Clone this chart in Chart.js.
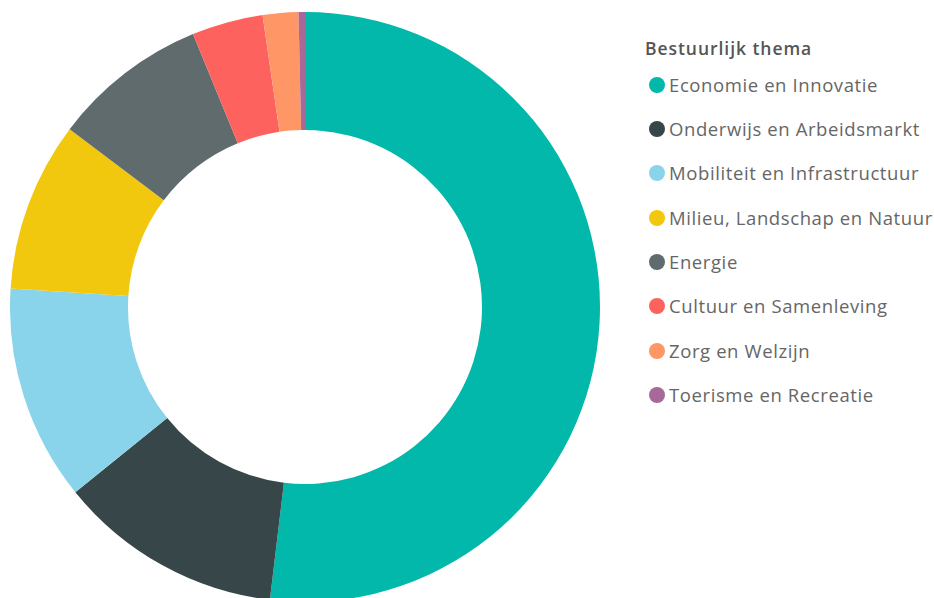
<!DOCTYPE html>
<html>
<head>
<meta charset="utf-8">
<script src="https://cdn.jsdelivr.net/npm/chart.js@4.4.0/dist/chart.umd.min.js"></script>
<style>
  html, body { margin: 0; padding: 0; width: 934px; height: 598px; overflow: hidden; background: #fff; }
  #wrap { position: absolute; left: 10px; top: 12px; width: 590px; height: 590px; }
  #legend { position: absolute; left: 645px; top: 36px; font-family: "Open Sans", "Noto Sans", sans-serif; }
  #legend .title { font-size: 17.5px; font-weight: 600; color: #555; height: 26.5px; line-height: 24px; letter-spacing: 0.95px; }
  #legend .item { position: relative; height: 44.4px; line-height: 44.4px; font-size: 18.5px; letter-spacing: 0.6px; color: #666; padding-left: 24px; white-space: nowrap; }
  #legend .dot { position: absolute; left: 4px; top: 14px; width: 16px; height: 16px; border-radius: 50%; }
</style>
</head>
<body>
<div id="wrap"><canvas id="c"></canvas></div>
<div id="legend"></div>
<script>
const legendTitle = "Bestuurlijk thema";
const categories = [
  "Economie en Innovatie",
  "Onderwijs en Arbeidsmarkt",
  "Mobiliteit en Infrastructuur",
  "Milieu, Landschap en Natuur",
  "Energie",
  "Cultuur en Samenleving",
  "Zorg en Welzijn",
  "Toerisme en Recreatie"
];
const values = [51.9, 12.3, 11.8, 9.3, 8.5, 3.9, 1.95, 0.35];
const colors = ["#01B8AA", "#374649", "#8AD4EB", "#F2C80F", "#5F6B6D", "#FD625E", "#FE9666", "#A66999"];

new Chart(document.getElementById("c"), {
  type: "doughnut",
  data: {
    labels: categories,
    datasets: [{ data: values, backgroundColor: colors, borderWidth: 0, hoverOffset: 0 }]
  },
  options: {
    responsive: true,
    maintainAspectRatio: false,
    animation: false,
    cutout: "60%",
    layout: { padding: 0 },
    plugins: { legend: { display: false }, tooltip: { enabled: false } }
  }
});

const lg = document.getElementById("legend");
const t = document.createElement("div");
t.className = "title";
t.textContent = legendTitle;
lg.appendChild(t);
categories.forEach((name, i) => {
  const it = document.createElement("div");
  it.className = "item";
  const d = document.createElement("span");
  d.className = "dot";
  d.style.background = colors[i];
  it.appendChild(d);
  it.appendChild(document.createTextNode(name));
  lg.appendChild(it);
});
</script>
</body>
</html>
